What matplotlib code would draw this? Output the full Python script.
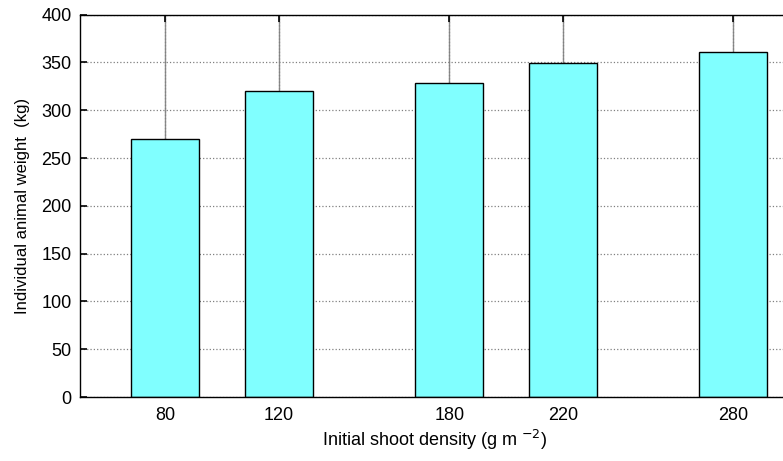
import matplotlib.pyplot as plt
import numpy as np

plt.rcParams['font.family'] = ['Liberation Sans', 'DejaVu Sans']

density = [80, 120, 180, 220, 280]
weight = [270, 320, 329, 349, 361]
err_top = [420, 420, 420, 420, 420]  # upper ends run off the top of the axes

fig = plt.figure(figsize=(7.83, 4.61), dpi=100)
ax = fig.add_axes([80 / 783, 64 / 461, 710 / 783, 382.3 / 461])

ax.set_axisbelow(True)
ax.grid(True, color='#808080', linestyle=':', linewidth=0.9)

ax.bar(density, weight, width=24, color='#80FFFF', edgecolor='black', linewidth=1.0, zorder=2)

# error bars (grey stems), kept under the tick marks
for x, y, e in zip(density, weight, err_top):
    ax.plot([x, x], [y, e], color='#8c8c8c', linewidth=1.0, zorder=0.4, clip_on=True)

ax.set_xlim(50, 300)
ax.set_ylim(0, 400)
ax.set_xticks(density)
ax.set_yticks(np.arange(0, 401, 50))
ax.tick_params(direction='in', length=5, width=1.2, labelsize=13, top=True, right=False, color='black')
ax.tick_params(axis='x', pad=7)
ax.tick_params(axis='y', pad=6)
for s in ['left', 'bottom', 'top']:
    ax.spines[s].set_linewidth(1.0)
ax.spines['right'].set_visible(False)

ax.set_xlabel('Initial shoot density (g m $^{-2}$)', fontsize=13, labelpad=3)
ax.set_ylabel('Individual animal weight  (kg)', fontsize=12, labelpad=8)

fig.savefig('out.png', dpi=100)
